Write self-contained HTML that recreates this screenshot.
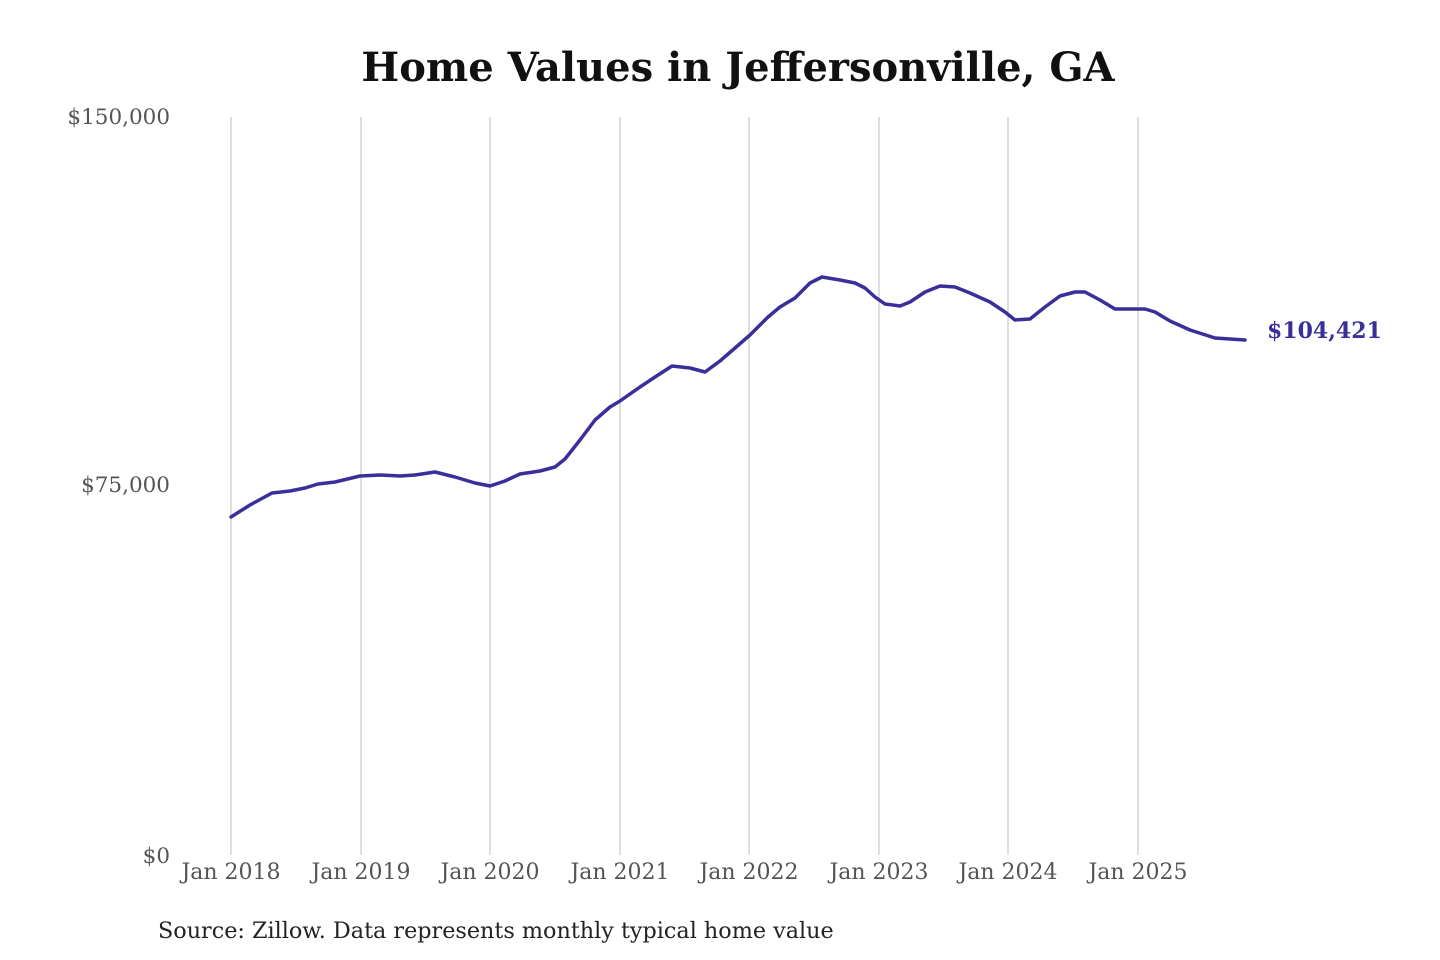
<!DOCTYPE html>
<html><head><meta charset="utf-8"><style>
html,body{margin:0;padding:0;background:#fff;}
svg{display:block;}
</style></head><body>
<svg width="1440" height="960" viewBox="0 0 1440 960" xmlns="http://www.w3.org/2000/svg">
<rect width="1440" height="960" fill="#fff"/>
<text x="738" y="81" text-anchor="middle" font-family="DejaVu Serif, Liberation Serif, serif" font-weight="bold" font-size="40" fill="#111">Home Values in Jeffersonville, GA</text>
<g stroke="#c8c8c8" stroke-width="1.2">
<line x1="231" y1="117" x2="231" y2="855"/>
<line x1="361" y1="117" x2="361" y2="855"/>
<line x1="490" y1="117" x2="490" y2="855"/>
<line x1="620" y1="117" x2="620" y2="855"/>
<line x1="749" y1="117" x2="749" y2="855"/>
<line x1="879" y1="117" x2="879" y2="855"/>
<line x1="1008" y1="117" x2="1008" y2="855"/>
<line x1="1138" y1="117" x2="1138" y2="855"/>
</g>
<g font-family="DejaVu Serif, Liberation Serif, serif" font-size="21.5" fill="#555">
<text x="170" y="124" text-anchor="end">$150,000</text>
<text x="170" y="492" text-anchor="end">$75,000</text>
<text x="170" y="863" text-anchor="end">$0</text>
<g text-anchor="middle" font-size="22">
<text x="231" y="879">Jan 2018</text>
<text x="361" y="879">Jan 2019</text>
<text x="490" y="879">Jan 2020</text>
<text x="620" y="879">Jan 2021</text>
<text x="749" y="879">Jan 2022</text>
<text x="879" y="879">Jan 2023</text>
<text x="1008" y="879">Jan 2024</text>
<text x="1138" y="879">Jan 2025</text>
</g>
</g>
<polyline fill="none" stroke="#3a2f9a" stroke-width="3.5" stroke-linejoin="round" stroke-linecap="round" points="231,517 250,505 272,493 290,491 305,488 318,484 335,482 360,476 380,475 400,476 415,475 435,472 455,477 475,483 490,486 505,481 520,474 540,471 555,467 565,459 580,440 595,420 610,407 620,401 640,387 655,377 672,366 690,368 705,372 720,361 735,348 750,335 768,317 780,307 795,298 810,283 822,277 840,280 855,283 865,288 875,297 885,304 900,306 910,302 925,292 940,286 955,287 970,293 990,302 1005,312 1015,320 1030,319 1045,307 1060,296 1075,292 1085,292 1100,300 1115,309 1130,309 1145,309 1155,312 1170,321 1190,330 1215,338 1230,339 1245,340"/>
<text x="1267" y="338" font-family="DejaVu Serif, Liberation Serif, serif" font-weight="bold" font-size="22" fill="#3a2f9a">$104,421</text>
<text x="158" y="938" font-family="DejaVu Serif, Liberation Serif, serif" font-size="22.3" fill="#222">Source: Zillow. Data represents monthly typical home value</text>
</svg>
</body></html>
